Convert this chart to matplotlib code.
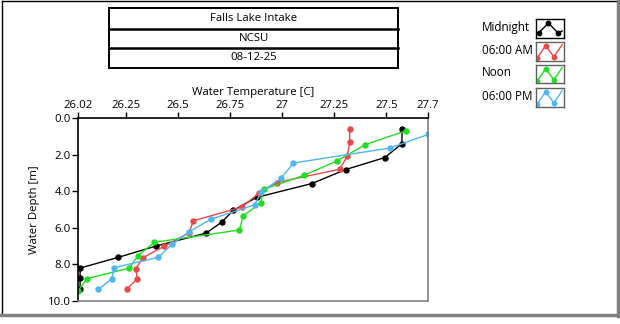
import matplotlib
matplotlib.use('Agg')
import matplotlib.pyplot as plt
from matplotlib.patches import Rectangle
from matplotlib.lines import Line2D

plt.rcParams['font.family'] = ['Open Sans', 'DejaVu Sans']
plt.rcParams['font.size'] = 8.2

# data (temperature [C], depth [m])
mid_temp = [27.575, 27.575, 27.493, 27.304, 27.143, 26.877, 26.765, 26.710, 26.635, 26.393, 26.212, 26.03, 26.03, 26.03]
mid_depth = [0.62, 1.40, 2.16, 2.82, 3.58, 4.34, 5.05, 5.69, 6.29, 7.00, 7.62, 8.20, 8.76, 9.33]

am_temp = [27.324, 27.324, 27.313, 27.276, 26.973, 26.888, 26.805, 26.573, 26.554, 26.435, 26.332, 26.297, 26.305, 26.256]
am_depth = [0.60, 1.32, 2.08, 2.80, 3.53, 4.12, 4.87, 5.62, 6.27, 7.00, 7.63, 8.24, 8.78, 9.33]

noon_temp = [27.594, 27.398, 27.264, 27.103, 26.911, 26.897, 26.813, 26.795, 26.387, 26.307, 26.266, 26.063, 26.02]
noon_depth = [0.70, 1.46, 2.34, 3.14, 3.90, 4.65, 5.34, 6.12, 6.79, 7.53, 8.20, 8.78, 9.45]

pm_temp = [27.70, 27.517, 27.054, 26.996, 26.90, 26.868, 26.656, 26.553, 26.472, 26.406, 26.193, 26.183, 26.118]
pm_depth = [0.90, 1.64, 2.46, 3.28, 4.03, 4.74, 5.54, 6.22, 6.90, 7.61, 8.18, 8.78, 9.36]

series_names = ['Midnight', '06:00 AM', 'Noon', '06:00 PM']
series_colors = ['#000000', '#e84848', '#22dd22', '#4fb6f2']

x_ticks = [26.02, 26.25, 26.5, 26.75, 27, 27.25, 27.5, 27.7]
x_labels = ['26.02', '26.25', '26.5', '26.75', '27', '27.25', '27.5', '27.7']
y_ticks = [0, 2, 4, 6, 8, 10]
y_labels = ['0.0', '2.0', '4.0', '6.0', '8.0', '10.0']

title_rows = ['Falls Lake Intake', 'NCSU', '08-12-25']

W, H = 620, 324


def fx(x):
    return x / W


def fy(y):
    return 1 - y / H


fig = plt.figure(figsize=(6.2, 3.24), dpi=100)

# main graph
ax = fig.add_axes([fx(78), fy(301), (428 - 78) / W, (301 - 118) / H])
data = [(mid_temp, mid_depth), (am_temp, am_depth), (noon_temp, noon_depth), (pm_temp, pm_depth)]
for (t, d), c in zip(data, series_colors):
    ax.plot(t, d, color=c, lw=1.0, marker='o', ms=3.6, mec=c, mfc=c, clip_on=True)

ax.set_xlim(26.02, 27.7)
ax.set_ylim(10, 0)
ax.xaxis.tick_top()
ax.xaxis.set_label_position('top')
ax.set_xticks(x_ticks)
ax.set_xticklabels(x_labels)
ax.set_yticks(y_ticks)
ax.set_yticklabels(y_labels)
ax.tick_params(length=4, width=1, pad=1, labelsize=8.2)
ax.set_xlabel('Water Temperature [C]', labelpad=4)
ax.set_ylabel('Water Depth [m]', labelpad=6)
for s in ['top', 'left']:
    ax.spines[s].set_color('black')
    ax.spines[s].set_linewidth(1.2)
for s in ['right', 'bottom']:
    ax.spines[s].set_color('#808080')
    ax.spines[s].set_linewidth(1.2)

# title table
x0, x1 = 109, 398
rows_y = [8, 28.5, 48, 68]
fig.add_artist(Rectangle((fx(x0), fy(rows_y[-1])), (x1 - x0) / W, (rows_y[-1] - rows_y[0]) / H,
                         transform=fig.transFigure, fill=False, ec='black', lw=1.4))
for yy in rows_y[1:-1]:
    fig.add_artist(Line2D([fx(x0), fx(x1)], [fy(yy), fy(yy)], transform=fig.transFigure, color='black', lw=1.8))
for i, txt in enumerate(title_rows):
    yc = (rows_y[i] + rows_y[i + 1]) / 2
    fig.text(fx((x0 + x1) / 2), fy(yc), txt, ha='center', va='center', fontsize=8.2)

# legend
box_tops = [19, 42, 65, 88]
label_y = [28, 50.5, 73, 96.5]
for name, c, top, ly in zip(series_names, series_colors, box_tops, label_y):
    fig.text(fx(482), fy(ly), name, ha='left', va='center', fontsize=8.4)
    lax = fig.add_axes([fx(536), fy(top + 18.5), 27.5 / W, 18.5 / H])
    lax.set_xlim(0, 1)
    lax.set_ylim(0, 1)
    lax.set_xticks([])
    lax.set_yticks([])
    for s in lax.spines.values():
        s.set_linewidth(1.0)
        s.set_color('black' if c == '#000000' else '#606060')
    if c == '#000000':
        lax.plot([0.1, 0.45, 0.8, 0.95], [0.25, 0.78, 0.25, 0.35], color=c, lw=1.0)
        lax.plot([0.1, 0.45, 0.8], [0.25, 0.78, 0.25], 'o', color=c, ms=3.2)
    else:
        lax.plot([0.05, 0.35, 0.65, 0.95], [0.15, 0.8, 0.2, 0.85], color=c, lw=1.0)
        lax.plot([0.05, 0.35, 0.65], [0.15, 0.8, 0.2], 'o', color=c, ms=3.2)

# outer frame
fig.add_artist(Line2D([fx(1.5), fx(1.5)], [fy(0.5), fy(315)], transform=fig.transFigure, color='black', lw=1.0))
fig.add_artist(Line2D([fx(1.5), fx(617)], [fy(0.5), fy(0.5)], transform=fig.transFigure, color='black', lw=1.0))
fig.add_artist(Line2D([fx(618), fx(618)], [fy(0), fy(316)], transform=fig.transFigure, color='#808080', lw=2.5))
fig.add_artist(Line2D([fx(1), fx(619)], [fy(315), fy(315)], transform=fig.transFigure, color='#808080', lw=2.5))

fig.savefig('out.png', dpi=100)
